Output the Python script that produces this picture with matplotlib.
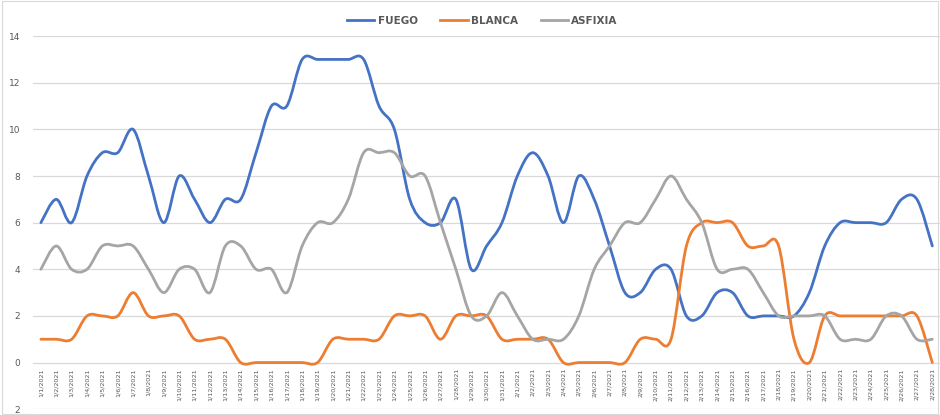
import matplotlib.pyplot as plt
from matplotlib.path import Path
from matplotlib.patches import PathPatch, Rectangle
import datetime

### 데이터 (1/1/2021 ~ 2/28/2021)
start = datetime.date(2021, 1, 1)
dates = [start + datetime.timedelta(days=i) for i in range(59)]
date_labels = [f"{d.month}/{d.day}/{d.year}" for d in dates]

fuego = [6, 7, 6, 8, 9, 9, 10, 8, 6, 8, 7, 6, 7, 7, 9, 11, 11, 13, 13, 13,
         13, 13, 11, 10, 7, 6, 6, 7, 4, 5, 6, 8, 9, 8, 6, 8, 7, 5, 3, 3,
         4, 4, 2, 2, 3, 3, 2, 2, 2, 2, 3, 5, 6, 6, 6, 6, 7, 7, 5]
blanca = [1, 1, 1, 2, 2, 2, 3, 2, 2, 2, 1, 1, 1, 0, 0, 0, 0, 0, 0, 1,
          1, 1, 1, 2, 2, 2, 1, 2, 2, 2, 1, 1, 1, 1, 0, 0, 0, 0, 0, 1,
          1, 1, 5, 6, 6, 6, 5, 5, 5, 1, 0, 2, 2, 2, 2, 2, 2, 2, 0]
asfixia = [4, 5, 4, 4, 5, 5, 5, 4, 3, 4, 4, 3, 5, 5, 4, 4, 3, 5, 6, 6,
           7, 9, 9, 9, 8, 8, 6, 4, 2, 2, 3, 2, 1, 1, 1, 2, 4, 5, 6, 6,
           7, 8, 7, 6, 4, 4, 4, 3, 2, 2, 2, 2, 1, 1, 1, 2, 2, 1, 1]

series = [("FUEGO", fuego, "#4472C4"),
          ("BLANCA", blanca, "#ED7D31"),
          ("ASFIXIA", asfixia, "#A5A5A5")]


# 엑셀 스타일의 부드러운 선 (베지어 곡선)
def smooth_path(xs, ys):
    pts = list(zip(xs, ys))
    n = len(pts)
    verts = [pts[0]]
    codes = [Path.MOVETO]
    for i in range(n - 1):
        p0 = pts[i - 1] if i > 0 else pts[i]
        p1 = pts[i]
        p2 = pts[i + 1]
        p3 = pts[i + 2] if i + 2 < n else pts[i + 1]
        c1 = (p1[0] + (p2[0] - p0[0]) / 6, p1[1] + (p2[1] - p0[1]) / 6)
        c2 = (p2[0] - (p3[0] - p1[0]) / 6, p2[1] - (p3[1] - p1[1]) / 6)
        verts += [c1, c2, p2]
        codes += [Path.CURVE4] * 3
    return Path(verts, codes)


fig = plt.figure(figsize=(9.4, 4.15), dpi=100)
ax = fig.add_axes([0.035, 0.014, 0.965, 0.899])

# 축 위치를 먼저 지정 (나중에 하면 눈금 설정이 초기화됨)
ax.spines["bottom"].set_position(("data", 0))
for s in ax.spines.values():
    s.set_visible(False)

x = list(range(len(dates)))
for name, vals, color in series:
    patch = PathPatch(smooth_path(x, vals), facecolor="none", edgecolor=color,
                      linewidth=2.0, capstyle="round", joinstyle="round")
    ax.add_patch(patch)
    ax.plot([], [], color=color, linewidth=2.0, label=name)

ax.set_xlim(-0.52, 58.5)
ax.set_ylim(-2, 14)
ax.set_yticks(range(-2, 15, 2))
ax.set_yticklabels([str(abs(v)) for v in range(-2, 15, 2)], fontsize=6.5, color="#595959")
ax.yaxis.grid(True, color="#D9D9D9", linewidth=0.9)
ax.set_axisbelow(True)

ax.set_xticks(x)
ax.set_xticklabels(date_labels, rotation=90, fontsize=4.6, color="#595959")
ax.tick_params(axis="both", length=0)
ax.tick_params(axis="x", pad=4)
ax.tick_params(axis="y", pad=9)

fig.legend(loc="upper center", bbox_to_anchor=(0.513, 0.985), ncol=3, frameon=False,
           prop={"size": 7.5, "weight": "bold"}, labelcolor="#595959",
           handlelength=2.6, columnspacing=2.2, handletextpad=0.3)

fig.patches.append(Rectangle((0.002, 0.003), 0.996, 0.994, transform=fig.transFigure,
                             fill=False, edgecolor="#D9D9D9", linewidth=0.8))

plt.savefig("out.png")
plt.close()
